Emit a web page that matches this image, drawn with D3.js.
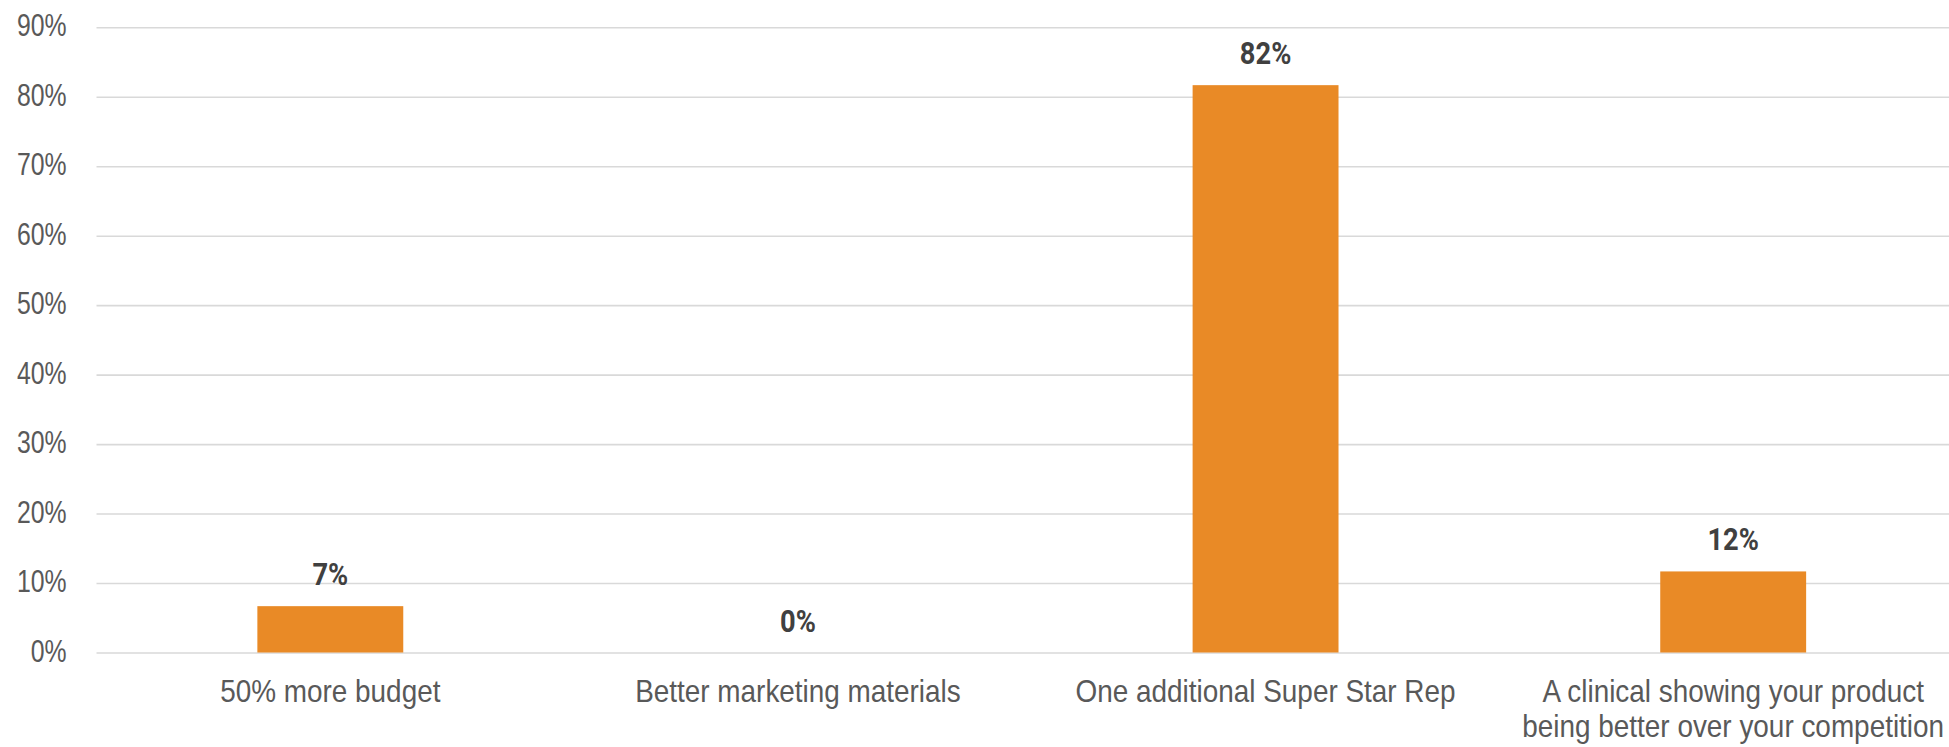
<!DOCTYPE html>
<html>
<head>
<meta charset="utf-8">
<script src="https://cdn.jsdelivr.net/npm/d3@7"></script>
<style>
  html, body { margin: 0; padding: 0; background: #ffffff; overflow: hidden; }
  svg { display: block; font-family: Roboto, "Noto Sans", sans-serif; }
</style>
</head>
<body>
<svg id="chart" width="1949" height="747"></svg>
<script>
// Survey answers (share of respondents)
const categories = [
  ["50% more budget"],
  ["Better marketing materials"],
  ["One additional Super Star Rep"],
  ["A clinical showing your product", "being better over your competition"]
];
const values = [0.0667, 0, 0.8167, 0.1167];
const yTicks = [0, 0.1, 0.2, 0.3, 0.4, 0.5, 0.6, 0.7, 0.8, 0.9];

const W = 1949, H = 747;
const plot = { left: 96.5, right: 1967, top: 27.3, bottom: 652.5 };
const fontSize = 31;
const barColor = "#E98A26";

// horizontal squeeze per text group, for narrow letterforms
const squeezeTick = 0.8;
const squeezeValue = 0.88;
const squeezeCat = 0.9;

const svg = d3.select("#chart");
const keys = categories.map(c => c.join(" "));

const x = d3.scaleBand()
  .domain(keys)
  .range([plot.left, plot.right])
  .paddingInner(0.688)
  .paddingOuter(0.344);

const y = d3.scaleLinear()
  .domain([0, 0.9])
  .range([plot.bottom, plot.top]);

// Gridlines + y labels
const yAxis = svg.append("g")
  .attr("transform", `translate(${plot.left},0)`)
  .call(d3.axisLeft(y)
    .tickValues(yTicks)
    .tickFormat(d3.format(".0%"))
    .tickSize(-(plot.right - plot.left))
    .tickPadding(30 / squeezeTick));
yAxis.select(".domain").remove();
yAxis.selectAll(".tick line")
  .attr("stroke", "#D9D9D9")
  .attr("stroke-width", 1.6);
yAxis.selectAll(".tick text")
  .attr("fill", "#595959")
  .attr("font-size", fontSize)
  .attr("dy", "0.28em")
  .attr("transform", `scale(${squeezeTick},1)`);

// Bars
svg.append("g")
  .selectAll("rect")
  .data(values)
  .join("rect")
  .attr("x", (d, i) => x(keys[i]))
  .attr("width", x.bandwidth())
  .attr("y", d => y(d))
  .attr("height", d => y(0) - y(d))
  .attr("fill", barColor);

// Value labels
svg.append("g")
  .selectAll("g")
  .data(values)
  .join("g")
  .attr("transform", (d, i) => `translate(${x(keys[i]) + x.bandwidth() / 2},${y(d) - 21}) scale(${squeezeValue},1)`)
  .append("text")
  .attr("text-anchor", "middle")
  .attr("font-size", fontSize)
  .attr("font-weight", "bold")
  .attr("fill", "#404040")
  .text(d => d3.format(".0%")(d));

// Category labels
const xAxis = svg.append("g")
  .attr("transform", `translate(0,${plot.bottom})`)
  .call(d3.axisBottom(x).tickSize(0));
xAxis.select(".domain").remove();
xAxis.selectAll(".tick text").remove();
xAxis.selectAll(".tick").each(function(k, i) {
  const t = d3.select(this).append("text")
    .attr("text-anchor", "middle")
    .attr("font-size", fontSize)
    .attr("fill", "#595959")
    .attr("transform", `scale(${squeezeCat},1)`);
  categories[i].forEach((line, j) => {
    t.append("tspan")
      .attr("x", 0)
      .attr("y", 50 + j * 35)
      .text(line);
  });
});
</script>
</body>
</html>
